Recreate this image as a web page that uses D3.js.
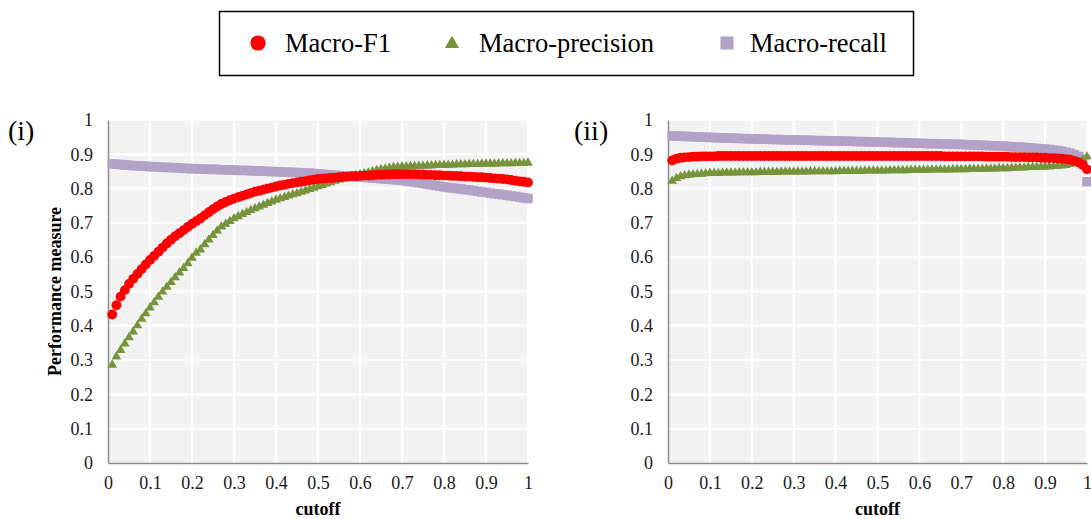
<!DOCTYPE html>
<html>
<head>
<meta charset="utf-8">
<script src="https://cdn.jsdelivr.net/npm/d3@7"></script>
<style>
  body { margin: 0; background: #fff; }
  svg { display: block; font-family: "Liberation Serif", "Times New Roman", serif; }
</style>
</head>
<body>
<div id="chart"></div>
<script>
/* Cutoff values on the x axis (0.01 to 1.00) */
const cutoff = [
  0.01,0.02,0.03,0.04,0.05,0.06,0.07,0.08,0.09,0.10,
  0.11,0.12,0.13,0.14,0.15,0.16,0.17,0.18,0.19,0.20,
  0.21,0.22,0.23,0.24,0.25,0.26,0.27,0.28,0.29,0.30,
  0.31,0.32,0.33,0.34,0.35,0.36,0.37,0.38,0.39,0.40,
  0.41,0.42,0.43,0.44,0.45,0.46,0.47,0.48,0.49,0.50,
  0.51,0.52,0.53,0.54,0.55,0.56,0.57,0.58,0.59,0.60,
  0.61,0.62,0.63,0.64,0.65,0.66,0.67,0.68,0.69,0.70,
  0.71,0.72,0.73,0.74,0.75,0.76,0.77,0.78,0.79,0.80,
  0.81,0.82,0.83,0.84,0.85,0.86,0.87,0.88,0.89,0.90,
  0.91,0.92,0.93,0.94,0.95,0.96,0.97,0.98,0.99,1.00
];

// Panel (i)
const f1_i = [
  .433,.460,.485,.504,.522,.537,.551,.565,.579,.592,
  .604,.616,.628,.640,.651,.661,.670,.679,.688,.697,
  .705,.713,.722,.731,.740,.748,.755,.761,.766,.771,
  .775,.779,.783,.787,.791,.794,.797,.800,.803,.806,
  .809,.811,.814,.816,.818,.820,.822,.824,.826,.828,
  .829,.830,.831,.832,.833,.834,.835,.836,.836,.837,
  .838,.838,.839,.840,.840,.841,.841,.842,.842,.842,
  .842,.842,.842,.841,.841,.840,.840,.839,.839,.838,
  .838,.837,.837,.836,.835,.835,.834,.833,.833,.832,
  .831,.830,.829,.828,.827,.825,.823,.821,.820,.818
];
const precision_i = [
  .286,.310,.329,.348,.366,.383,.401,.420,.436,.453,
  .468,.484,.499,.513,.527,.541,.555,.568,.582,.598,
  .612,.622,.637,.651,.664,.677,.689,.697,.705,.713,
  .719,.725,.731,.737,.742,.747,.752,.757,.762,.767,
  .771,.775,.779,.783,.786,.790,.794,.798,.802,.806,
  .810,.814,.818,.822,.826,.829,.832,.835,.838,.841,
  .844,.847,.850,.853,.856,.858,.860,.862,.863,.864,
  .864,.865,.865,.866,.866,.867,.867,.868,.868,.869,
  .869,.869,.870,.870,.870,.871,.871,.871,.872,.872,
  .872,.872,.873,.873,.873,.873,.874,.874,.874,.875
];
const recall_i = [
  .872,.871,.870,.869,.868,.867,.866,.866,.865,.864,
  .864,.863,.862,.862,.861,.861,.860,.859,.859,.858,
  .858,.857,.857,.856,.856,.856,.855,.855,.854,.854,
  .853,.853,.853,.852,.852,.851,.851,.850,.850,.849,
  .849,.848,.848,.847,.847,.846,.845,.845,.844,.843,
  .842,.841,.840,.839,.838,.837,.837,.836,.835,.834,
  .833,.832,.831,.830,.829,.828,.827,.826,.825,.824,
  .822,.821,.819,.817,.815,.813,.811,.809,.807,.805,
  .803,.802,.800,.799,.797,.796,.794,.792,.790,.789,
  .787,.785,.784,.782,.780,.779,.777,.775,.773,.771
];

// Panel (ii)
const f1_ii = [
  .882,.887,.890,.891,.892,.893,.893,.894,.894,.894,
  .894,.895,.895,.895,.895,.895,.895,.895,.895,.895,
  .895,.895,.895,.895,.895,.895,.895,.895,.895,.895,
  .895,.895,.895,.895,.895,.895,.895,.895,.895,.895,
  .895,.895,.895,.895,.895,.895,.895,.895,.895,.895,
  .895,.895,.895,.895,.895,.895,.895,.895,.895,.895,
  .895,.895,.895,.895,.895,.894,.894,.894,.894,.894,
  .894,.894,.894,.894,.894,.893,.893,.893,.893,.893,
  .893,.892,.892,.892,.892,.891,.891,.891,.890,.890,
  .889,.889,.888,.887,.886,.884,.881,.876,.869,.856
];
const precision_ii = [
  .822,.830,.835,.838,.840,.841,.842,.843,.844,.845,
  .845,.845,.846,.846,.846,.846,.847,.847,.847,.847,
  .847,.848,.848,.848,.848,.848,.849,.849,.849,.849,
  .849,.849,.849,.850,.850,.850,.850,.850,.850,.850,
  .851,.851,.851,.851,.851,.851,.852,.852,.852,.852,
  .852,.852,.853,.853,.853,.853,.853,.854,.854,.854,
  .854,.854,.855,.855,.855,.855,.855,.856,.856,.856,
  .856,.857,.857,.857,.857,.858,.858,.858,.859,.859,
  .859,.860,.860,.861,.861,.862,.862,.863,.863,.864,
  .864,.865,.866,.867,.868,.871,.875,.879,.884,.893
];
const recall_ii = [
  .954,.953,.953,.952,.952,.951,.951,.950,.950,.949,
  .949,.948,.948,.947,.947,.947,.946,.946,.945,.945,
  .945,.944,.944,.944,.943,.943,.943,.942,.942,.942,
  .942,.941,.941,.941,.940,.940,.940,.939,.939,.939,
  .939,.938,.938,.938,.937,.937,.937,.936,.936,.936,
  .935,.935,.935,.934,.934,.934,.933,.933,.932,.932,
  .932,.931,.931,.931,.930,.930,.930,.929,.929,.929,
  .928,.928,.927,.927,.926,.926,.925,.925,.924,.924,
  .923,.922,.921,.921,.920,.919,.918,.917,.916,.915,
  .914,.912,.911,.909,.906,.903,.899,.894,.886,.820
];

/* Tick values and labels */
const xTicks = [0, 0.1, 0.2, 0.3, 0.4, 0.5, 0.6, 0.7, 0.8, 0.9, 1];
const yTicks = [0, 0.1, 0.2, 0.3, 0.4, 0.5, 0.6, 0.7, 0.8, 0.9, 1];
const tickLabels = ["0", "0.1", "0.2", "0.3", "0.4", "0.5", "0.6", "0.7", "0.8", "0.9", "1"];

/* Series names and colours */
const seriesNames = ["Macro-F1", "Macro-precision", "Macro-recall"];
const seriesColors = ["#ff0000", "#77933c", "#b3a2c7"];
const seriesShapes = ["circle", "triangle", "square"];

const width = 1091, height = 519;
const fontFamily = '"Liberation Serif", "Times New Roman", serif';

const svg = d3.select("#chart")
  .append("svg")
    .attr("width", width)
    .attr("height", height)
    .attr("viewBox", [0, 0, width, height]);

/* Marker generator for each shape */
const markerPath = (shape, scale) => {
  if (shape === "triangle") return d3.symbol(d3.symbolTriangle, 40 * scale)();
  if (shape === "square") return d3.symbol(d3.symbolSquare, 90 * scale)();
  return d3.symbol(d3.symbolCircle, 76 * scale)();
};

/* Legend */
const legend = svg.append("g").attr("class", "legend");
legend.append("rect")
  .attr("x", 219.5).attr("y", 11.5)
  .attr("width", 694).attr("height", 64)
  .attr("fill", "#fff")
  .attr("stroke", "#000")
  .attr("stroke-width", 1.5);

const legendX = [258, 452, 727];
const legendScale = [2.4, 2.2, 1.9];
seriesNames.forEach((name, i) => {
  legend.append("path")
    .attr("d", markerPath(seriesShapes[i], legendScale[i]))
    .attr("transform", `translate(${legendX[i]},${i === 1 ? 44 : 43})`)
    .attr("fill", seriesColors[i]);
  legend.append("text")
    .attr("x", legendX[i] + (i === 2 ? 23 : 27))
    .attr("y", 52)
    .attr("font-family", fontFamily)
    .attr("font-size", 26.5)
    .attr("fill", "#000")
    .text(name);
});

/* Draw one panel */
const drawPanel = (opts) => {
  const xScale = d3.scaleLinear().domain([0, 1]).range([opts.left, opts.right]);
  const yScale = d3.scaleLinear().domain([0, 1]).range([463, 120]);

  const g = svg.append("g");

  // plot area background
  g.append("rect")
    .attr("x", xScale(0)).attr("y", yScale(1))
    .attr("width", xScale(1) - xScale(0))
    .attr("height", yScale(0) - yScale(1))
    .attr("fill", "#f2f2f2");

  // grid lines
  g.append("g")
    .selectAll("line")
    .data(yTicks.slice(1))
    .join("line")
      .attr("x1", xScale(0)).attr("x2", xScale(1))
      .attr("y1", d => yScale(d)).attr("y2", d => yScale(d))
      .attr("stroke", "#fff").attr("stroke-width", 2);
  g.append("g")
    .selectAll("line")
    .data(xTicks.slice(1))
    .join("line")
      .attr("x1", d => xScale(d)).attr("x2", d => xScale(d))
      .attr("y1", yScale(0)).attr("y2", yScale(1))
      .attr("stroke", "#fff").attr("stroke-width", 2);

  // axes
  const xAxis = d3.axisBottom(xScale)
    .tickValues(xTicks)
    .tickFormat((d, i) => tickLabels[i])
    .tickSize(0)
    .tickPadding(13);
  const xGroup = g.append("g")
    .attr("transform", `translate(0, ${yScale(0)})`)
    .call(xAxis);

  const yAxis = d3.axisLeft(yScale)
    .tickValues(yTicks)
    .tickFormat((d, i) => tickLabels[i])
    .tickSize(0)
    .tickPadding(15);
  const yGroup = g.append("g")
    .attr("transform", `translate(${xScale(0)}, 0)`)
    .call(yAxis);

  [xGroup, yGroup].forEach(ax => {
    ax.select(".domain").attr("stroke", "#8c8c8c").attr("stroke-width", 1.5);
    ax.selectAll("text")
      .attr("font-family", fontFamily)
      .attr("font-size", 18)
      .attr("fill", "#1a1a1a");
  });

  // series markers: recall at the back, F1 on top
  const series = [opts.f1, opts.precision, opts.recall];
  [2, 1, 0].forEach(si => {
    g.append("g")
      .selectAll("path")
      .data(cutoff.map((c, i) => ({x: c, y: series[si][i]})))
      .join("path")
        .attr("d", markerPath(seriesShapes[si], 1))
        .attr("transform", d => `translate(${xScale(d.x)},${yScale(d.y)})`)
        .attr("fill", seriesColors[si]);
  });

  // panel label
  g.append("text")
    .attr("x", opts.labelX).attr("y", 140)
    .attr("font-family", fontFamily)
    .attr("font-size", 28)
    .attr("fill", "#000")
    .text(opts.label);

  // x axis title
  g.append("text")
    .attr("x", (xScale(0) + xScale(1)) / 2)
    .attr("y", 515)
    .attr("text-anchor", "middle")
    .attr("font-family", fontFamily)
    .attr("font-weight", "bold")
    .attr("font-size", 18)
    .attr("fill", "#000")
    .text("cutoff");

  if (opts.yTitle) {
    g.append("text")
      .attr("transform", `translate(61, ${(yScale(0) + yScale(1)) / 2}) rotate(-90)`)
      .attr("text-anchor", "middle")
      .attr("font-family", fontFamily)
      .attr("font-weight", "bold")
      .attr("font-size", 18)
      .attr("fill", "#000")
      .text(opts.yTitle);
  }
};

drawPanel({left: 108, right: 528, label: "(i)", labelX: 8,
  f1: f1_i, precision: precision_i, recall: recall_i, yTitle: "Performance measure"});
drawPanel({left: 668, right: 1087, label: "(ii)", labelX: 574,
  f1: f1_ii, precision: precision_ii, recall: recall_ii});
</script>
</body>
</html>
